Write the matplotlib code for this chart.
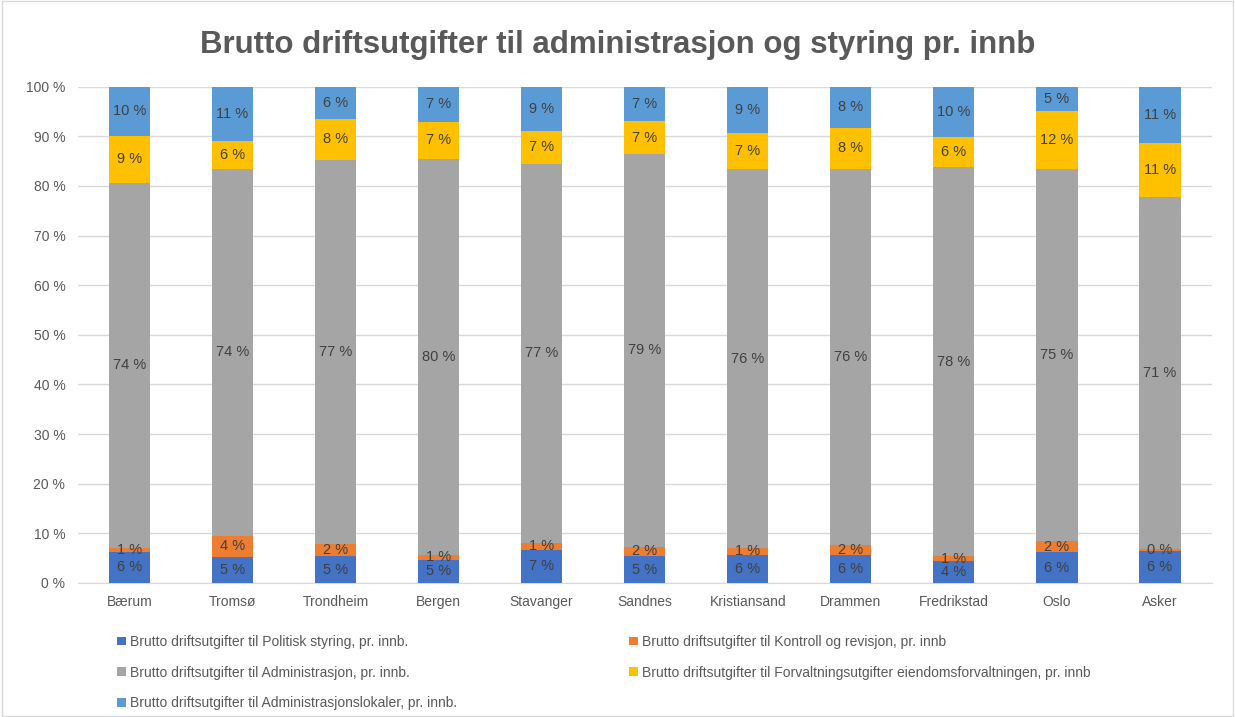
import matplotlib
matplotlib.use("Agg")
import matplotlib.pyplot as plt
from matplotlib.patches import Patch
import numpy as np

plt.rcParams['font.family'] = ['Liberation Sans', 'DejaVu Sans']

categories = ["Bærum", "Tromsø", "Trondheim", "Bergen", "Stavanger", "Sandnes",
              "Kristiansand", "Drammen", "Fredrikstad", "Oslo", "Asker"]

politisk = [6.3, 5.3, 5.4, 4.7, 6.7, 5.4, 5.7, 5.6, 4.4, 6.2, 6.4]
kontroll = [0.8, 4.2, 2.4, 0.9, 1.3, 1.9, 1.3, 2.0, 1.0, 2.2, 0.4]
administrasjon = [73.6, 74.0, 77.4, 79.9, 76.5, 79.1, 76.4, 75.9, 78.4, 75.1, 71.0]
forvaltning = [9.4, 5.5, 8.4, 7.4, 6.6, 6.7, 7.3, 8.2, 6.0, 11.6, 10.8]
lokaler = [9.9, 11.0, 6.4, 7.1, 8.9, 6.9, 9.3, 8.3, 10.2, 4.9, 11.4]

series_names = [
    "Brutto driftsutgifter til Politisk styring, pr. innb.",
    "Brutto driftsutgifter til Kontroll og revisjon, pr. innb",
    "Brutto driftsutgifter til Administrasjon, pr. innb.",
    "Brutto driftsutgifter til Forvaltningsutgifter eiendomsforvaltningen, pr. innb",
    "Brutto driftsutgifter til Administrasjonslokaler, pr. innb.",
]
colors = ["#4472C4", "#ED7D31", "#A5A5A5", "#FFC000", "#5B9BD5"]

data = np.array([politisk, kontroll, administrasjon, forvaltning, lokaler], dtype=float)

fig = plt.figure(figsize=(12.35, 7.17), dpi=100)
ax = fig.add_axes([0.063, 0.187, 0.918, 0.692])

x = np.arange(len(categories))
bottom = np.zeros(len(categories))
for vals, col in zip(data, colors):
    ax.bar(x, vals, bottom=bottom, width=0.4, color=col, zorder=3)
    for xi, b, v in zip(x, bottom, vals):
        ax.text(xi, b + v / 2, f"{int(np.floor(v + 0.5))} %", ha="center", va="center",
                fontsize=10.5, color="#404040", zorder=4)
    bottom += vals

ax.set_xlim(-0.5, len(categories) - 0.5)
ax.set_ylim(0, 100)
ax.set_yticks(np.arange(0, 101, 10))
ax.set_yticklabels([f"{t} %" for t in range(0, 101, 10)], fontsize=10, color="#595959")
ax.set_xticks(x)
ax.set_xticklabels(categories, fontsize=10, color="#595959")
ax.tick_params(axis="both", length=0, pad=9)
ax.grid(axis="y", color="#D9D9D9", linewidth=1, zorder=0)
for s in ["top", "right", "left"]:
    ax.spines[s].set_visible(False)
ax.spines["bottom"].set_color("#D9D9D9")

fig.text(0.5, 0.937, "Brutto driftsutgifter til administrasjon og styring pr. innb",
         ha="center", va="center", fontsize=22.5, fontweight="bold", color="#595959")

handles = [Patch(facecolor=c, label=n) for c, n in zip(colors, series_names)]
order = [0, 2, 4, 1, 3]
leg = fig.legend(handles=[handles[i] for i in order], loc="upper left",
                 bbox_to_anchor=(0.085, 0.132),
                 ncol=2, frameon=False, fontsize=10, handlelength=0.6, handleheight=0.6,
                 handletextpad=0.3, columnspacing=12.4, labelspacing=1.2)
for t in leg.get_texts():
    t.set_color("#595959")

fig.patches.append(plt.Rectangle((0.002, 0.002), 0.996, 0.996, transform=fig.transFigure,
                                 fill=False, edgecolor="#D9D9D9", linewidth=1))

fig.savefig("out.png", dpi=100, facecolor="white")
